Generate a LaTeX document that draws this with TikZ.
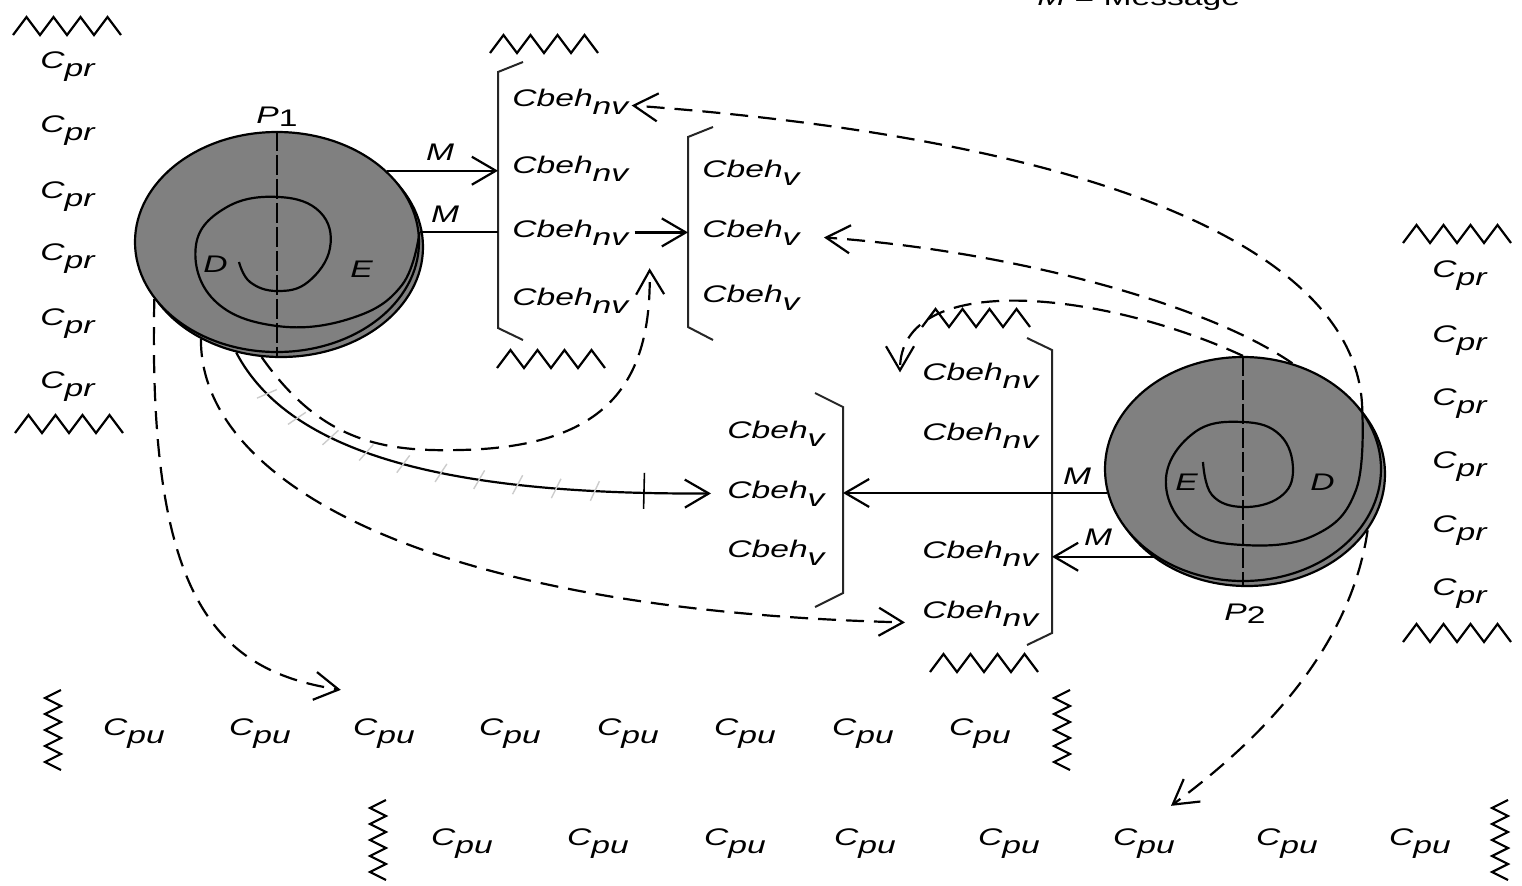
\documentclass[tikz,border=0pt]{standalone}
\usepackage{fontspec}
\setmainfont{Liberation Sans}[FakeStretch=1.4]
\usetikzlibrary{arrows.meta,shapes.geometric,decorations.markings}

% letter with a lowered, full-size index
\newcommand\lbl[2]{\textit{#1\raisebox{-0.65ex}{#2}}}

\begin{document}
\begin{tikzpicture}[x=0.5pt,y=-0.5pt,
  every node/.style={font=\fontsize{12}{14}\selectfont\itshape},
  txt/.style={inner sep=0pt, anchor=base west},
  disc/.style={ellipse, draw, line width=1.1pt, fill=black!50, inner sep=0pt,
               minimum width=142pt, minimum height=110pt},
  ln/.style={line width=1.1pt},
  dsh/.style={line width=1.1pt, dash pattern=on 9pt off 5pt},
  axis/.style={line width=1.1pt, dash pattern=on 10pt off 2pt},
  tip/.style={-{Straight Barb[length=12pt,width=14pt]}},
  brk/.style={line width=1pt, black!85, line join=miter},
  zz/.style={line width=1.1pt, line join=miter},
  zigh/.pic={\draw[zz] (0,0) -- (13.5,-18) -- (27,0) -- (40.5,-18) -- (54,0)
                -- (67.5,-18) -- (81,0) -- (94.5,-18) -- (108,0);},
  zigv/.pic={\draw[zz] (0,0) -- (-16,8) -- (0,16) -- (-16,24) -- (0,32) -- (-16,40)
                -- (0,48) -- (-16,56) -- (0,64) -- (-16,72) -- (0,80);}
]
\fill[white] (0,0) rectangle (1522,885);
\useasboundingbox (0,0) rectangle (1522,885);

% legend
\node[txt] (key) at (1037,5) {M {\upshape = Message}};

% ---------- process P1 ----------
\node[disc] (p1s) at (281,247) {};
\node[disc] (p1) at (277,242) {};
\draw[ln] plot[smooth, tension=0.7] coordinates {(239,262) (250,282) (277,291) (308,282)
  (330,248) (320,212) (279,197) (227,207) (196,245) (214,300) (277,326) (352,318) (402,285) (p1.4)};
\draw[axis] (p1.north) -- (p1.north |- p1s.south);
\node[txt, anchor=base] (p1l) at (277,123) {P\raisebox{-0.25ex}{\upshape 1}};
\node[txt] (p1d) at (203,272) {D};
\node[txt] (p1e) at (350,277) {E};

% ---------- process P2 ----------
\node[disc, minimum width=138pt, minimum height=112pt] (p2s) at (1247,474) {};
\node[disc, minimum width=138pt, minimum height=112pt] (p2) at (1243,469) {};
\draw[ln] plot[smooth, tension=0.7] coordinates {(1203,462) (1212,495) (1243,507) (1280,497)
  (1293,470) (1280,435) (1243,422) (1195,432) (1166,478) (1188,528) (1243,545) (1315,535)
  (1356,490) (p2.26)};
\draw[axis] (p2.north) -- (p2.north |- p2s.south);
\node[txt, anchor=base] (p2l) at (1245,620) {P\raisebox{-0.25ex}{\upshape 2}};
\node[txt] (p2e) at (1175,490) {E};
\node[txt] (p2d) at (1310,490) {D};

% ---------- left column of C_pr ----------
\pic at (13,35) {zigh};
\foreach \y [count=\i] in {68,132,198,260,325,388}
  \node[txt] (lp\i) at (40,\y) {\lbl{C}{pr}};
\pic at (15,433) {zigh};

% ---------- right column of C_pr ----------
\pic at (1403,243) {zigh};
\foreach \y [count=\i] in {277,342,405,468,532,595}
  \node[txt] (rp\i) at (1432,\y) {\lbl{C}{pr}};
\pic at (1403,642) {zigh};

% ---------- list 1: Cbeh_nv ----------
\pic at (490,53) {zigh};
\draw[brk] (523,62) -- (498,72) coordinate (b1) -- (498,328) -- (523,340);
\foreach \y [count=\i] in {106,173,237,305}
  \node[txt] (n1\i) at (512,\y) {\lbl{Cbeh}{nv}};
\pic at (497,368) {zigh};

% ---------- list 2: Cbeh_v ----------
\draw[brk] (713,127) -- (688,137) coordinate (b2) -- (688,327) -- (713,340);
\foreach \y [count=\i] in {177,237,302}
  \node[txt] (n2\i) at (702,\y) {\lbl{Cbeh}{v}};

% ---------- list 3: Cbeh_v ----------
\draw[brk] (815,393) -- (843,407) coordinate (b3) -- (843,593) -- (815,607);
\foreach \y [count=\i] in {438,498,557}
  \node[txt] (n3\i) at (727,\y) {\lbl{Cbeh}{v}};

% ---------- list 4: Cbeh_nv ----------
\pic at (922,327) {zigh};
\draw[brk] (1027,338) -- (1052,350) coordinate (b4) -- (1052,633) -- (1027,645);
\foreach \y [count=\i] in {380,440,558,618}
  \node[txt] (n4\i) at (922,\y) {\lbl{Cbeh}{nv}};
\pic at (930,672) {zigh};

% ---------- rows of C_pu ----------
\pic at (61,690) {zigv};
\foreach \x [count=\i] in {134,260,384,510,628,745,863,980}
  \node[txt, anchor=base] (u1\i) at (\x,735) {\lbl{C}{pu}};
\pic at (1070,690) {zigv};

\pic at (386,800) {zigv};
\foreach \x [count=\i] in {462,598,735,865,1009,1144,1287,1420}
  \node[txt, anchor=base] (u2\i) at (\x,845) {\lbl{C}{pu}};
\pic at (1508,800) {zigv};

% ---------- messages ----------
\draw[ln, tip] (p1.33) -- (p1.33 -| b1);
\node[txt, anchor=base] (m1) at (440,160) {M};
\draw[ln] (p1.4) -- (p1.4 -| b1);
\node[txt, anchor=base] (m2) at (445,222) {M};
\draw[ln, tip] ([xshift=3pt]n13.east) -- (n13.east -| b2);

\draw[ln, tip] (p2.-170) -- (p2.-170 -| b3);
\node[txt, anchor=base] (m3) at (1077,484) {M};
\draw[ln, tip] (p2.-135) -- (p2.-135 -| b4);
\node[txt, anchor=base] (m4) at (1098,545) {M};

% ---------- dependencies from P1 ----------
\draw[dsh, tip] (p1s.-100) .. controls (320,440) and (380,452) .. (460,450)
  .. controls (600,447) and (652,390) .. ([xshift=10.5pt,yshift=9.5pt]n14.north east);
\draw[ln, tip, postaction={decorate}, decoration={markings,
    mark=between positions 0.1 and 0.78 step 0.075 with
      {\draw[arrows=-, gray!40, line width=0.7pt] (-2pt,-5pt) -- (2pt,5pt);},
    mark=at position 0.87 with {\draw[arrows=-, line width=0.8pt] (0,-8pt) -- (0,10pt);}}]
  (p1s.-113) .. controls (290,455) and (450,495) .. ([xshift=-8pt]n32.west);
\draw[dsh, tip] (p1s.-131) .. controls (200,480) and (420,610)
  .. ([xshift=-8.5pt,yshift=-4.5pt]n44.west);
\draw[dsh, tip] (p1.-155) .. controls (148,590) and (210,670)
  .. ([xshift=-6pt,yshift=14pt]u13.north west);

% ---------- dependencies from P2 ----------
\draw[dsh, tip] (p2.26) .. controls (1360,250) and (1100,140)
  .. ([xshift=1.5pt,yshift=-2pt]n11.east);
\draw[dsh, tip] (p2.65) .. controls (1200,300) and (1000,250)
  .. ([xshift=12pt,yshift=-2.5pt]n22.east);
\draw[dsh, tip] (p2.north) .. controls (1100,290) and (900,270)
  .. ([xshift=-11pt,yshift=1.5pt]n41.west);
\draw[dsh, tip] (p2s.-25) .. controls (1350,650) and (1260,740)
  .. ([xshift=13.5pt,yshift=11pt]u26.north);
\end{tikzpicture}
\end{document}
